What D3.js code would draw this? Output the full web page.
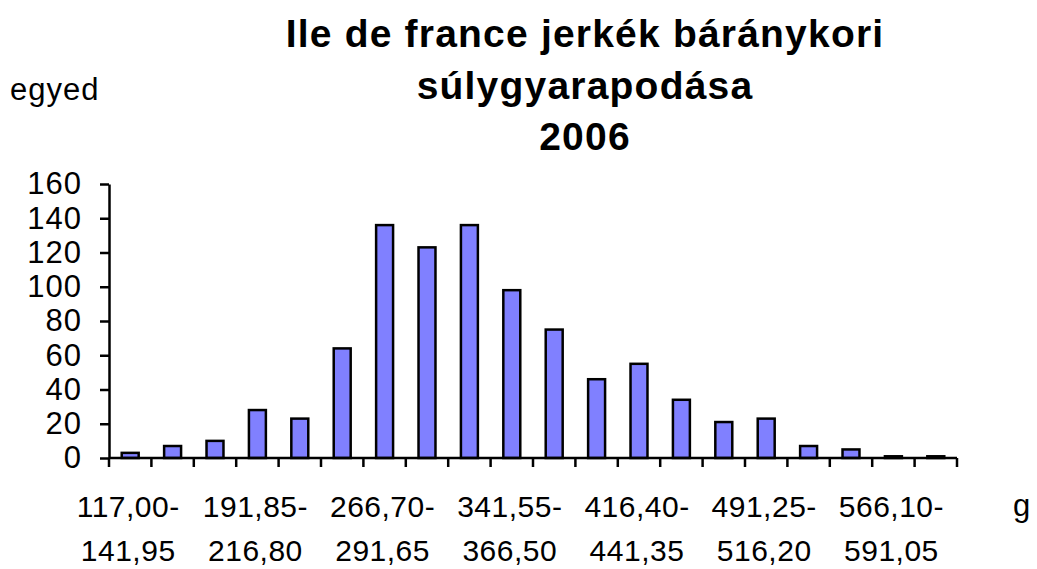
<!DOCTYPE html>
<html>
<head>
<meta charset="utf-8">
<script src="https://cdn.jsdelivr.net/npm/d3@7"></script>
<style>
  body { margin: 0; background: #fff; }
  text { font-family: "Liberation Sans", Arial, sans-serif; fill: #000; }
</style>
</head>
<body>
<div id="viz"></div>
<script>
// bin lower bounds (step 24,95 g) and counts per bin
const binStarts = [117.00, 141.95, 166.90, 191.85, 216.80, 241.75, 266.70, 291.65, 316.60, 341.55,
                   366.50, 391.45, 416.40, 441.35, 466.30, 491.25, 516.20, 541.15, 566.10, 591.05];
const binStep = 24.95;
const counts = [3, 7, 10, 28, 23, 64, 136, 123, 136, 98, 75, 46, 55, 34, 21, 23, 7, 5, 1, 1];
const yTicks = [0, 20, 40, 60, 80, 100, 120, 140, 160];
const titleLines = ["Ile de france jerkék báránykori", "súlygyarapodása", "2006"];

const W = 1037, H = 569;
const plotL = 109, plotR = 957, plotT = 184, plotB = 458;

const fmt = v => v.toFixed(2).replace(".", ",");
const cats = binStarts.map((s, i) => i);

const svg = d3.select("#viz").append("svg").attr("width", W).attr("height", H);

const x = d3.scaleBand().domain(cats).range([plotL, plotR]).paddingInner(0.6).paddingOuter(0.3);
const xb = d3.scaleBand().domain(cats).range([plotL, plotR]);
const y = d3.scaleLinear().domain([0, 160]).range([plotB, plotT]);

// title
svg.append("g").selectAll("text").data(titleLines).join("text")
  .attr("x", 585)
  .attr("y", (d, i) => 47 + i * 51.5)
  .attr("text-anchor", "middle")
  .attr("font-size", 39)
  .attr("font-weight", "bold")
  .attr("letter-spacing", 1.2)
  .text(d => d);

svg.append("text").attr("x", 10).attr("y", 100).attr("font-size", 31).attr("letter-spacing", 1).text("egyed");
svg.append("text").attr("x", 1013).attr("y", 516).attr("font-size", 31).text("g");

// bars
svg.append("g").selectAll("rect").data(counts).join("rect")
  .attr("x", (d, i) => x(i))
  .attr("y", d => y(d))
  .attr("width", x.bandwidth())
  .attr("height", d => plotB - y(d))
  .attr("fill", "#8080ff")
  .attr("stroke", "#000")
  .attr("stroke-width", 2.5);

// y axis
const ya = svg.append("g").attr("transform", `translate(${plotL},0)`)
  .call(d3.axisLeft(y).tickValues(yTicks).tickSize(9).tickPadding(18).tickSizeOuter(0));
ya.select(".domain").attr("stroke-width", 2.5);
ya.selectAll(".tick line").attr("stroke-width", 2.5);
ya.selectAll("text").attr("font-size", 31).attr("letter-spacing", 1)
  .style("font-family", "Liberation Sans, Arial, sans-serif");

// x axis: ticks at bin boundaries
const edges = d3.range(0, counts.length + 1).map(i => plotL + i * xb.step());
const xa = svg.append("g");
xa.append("line").attr("x1", plotL).attr("x2", plotR).attr("y1", plotB).attr("y2", plotB)
  .attr("stroke", "#000").attr("stroke-width", 2.5);
xa.selectAll("line.tk").data(edges).join("line").attr("class", "tk")
  .attr("x1", d => d).attr("x2", d => d).attr("y1", plotB).attr("y2", plotB + 9)
  .attr("stroke", "#000").attr("stroke-width", 2.5);

// category labels, every third bin
const labelIdx = cats.filter(i => i % 3 === 0);
const lab = xa.selectAll("text").data(labelIdx).join("text")
  .attr("text-anchor", "middle")
  .attr("font-size", 30)
  .attr("letter-spacing", 0.5);
lab.append("tspan").attr("x", i => x(i) + x.bandwidth() / 2 - 2).attr("y", 517)
  .text(i => fmt(binStarts[i]) + "-");
lab.append("tspan").attr("x", i => x(i) + x.bandwidth() / 2 - 2).attr("y", 561)
  .text(i => fmt(binStarts[i] + binStep));
</script>
</body>
</html>
